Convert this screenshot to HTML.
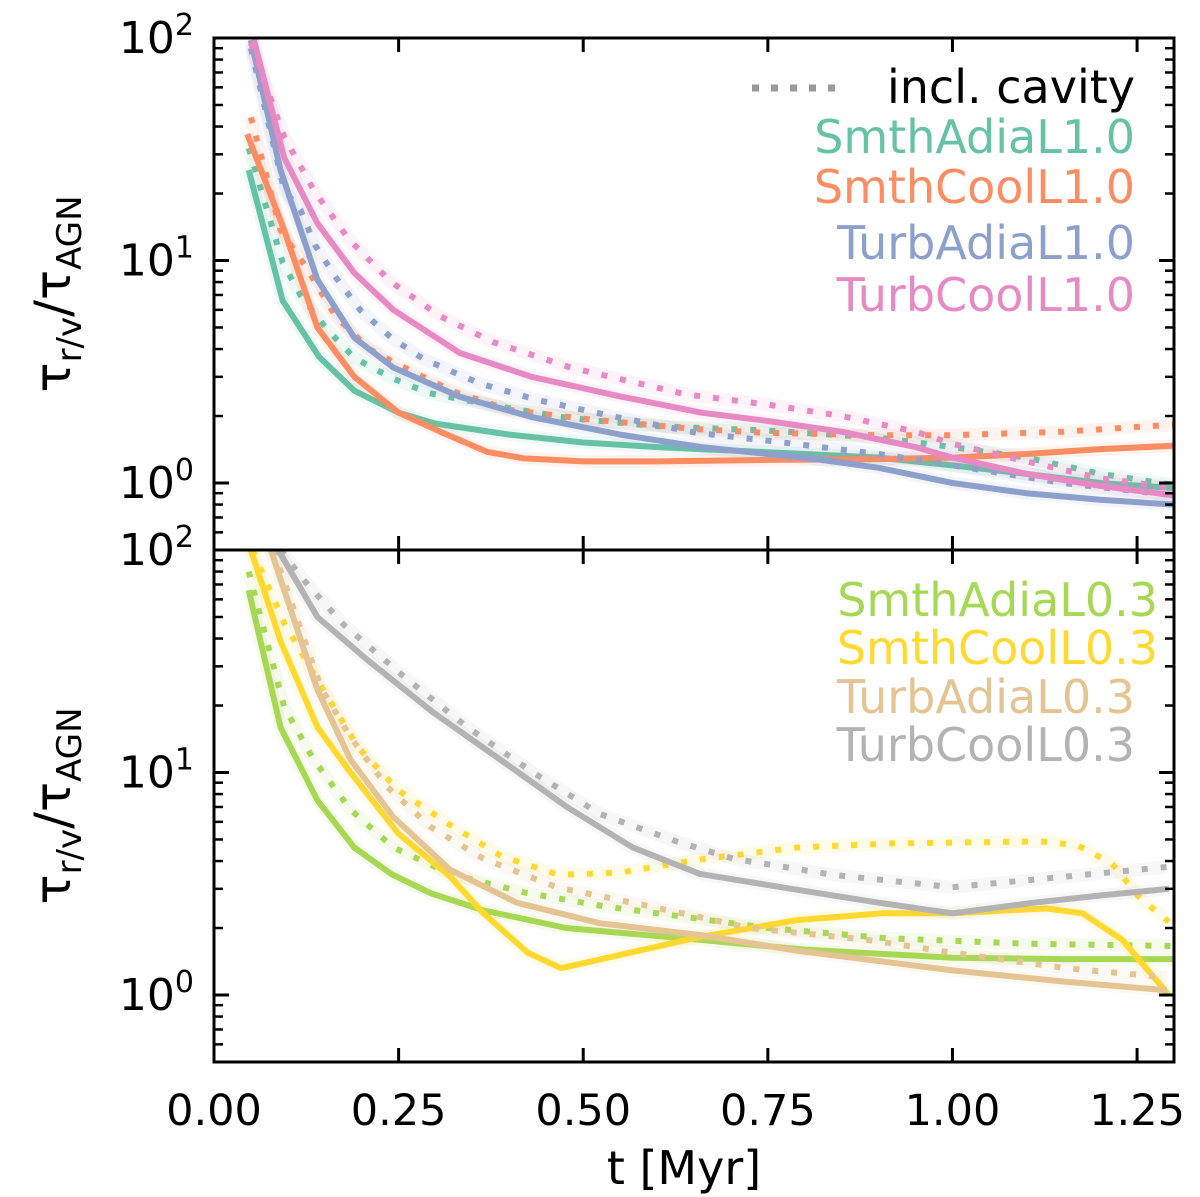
<!DOCTYPE html>
<html><head><meta charset="utf-8">
<style>
html,body{margin:0;padding:0;background:#fff;}
svg{display:block;font-family:"DejaVu Sans","Liberation Sans",sans-serif;}
</style></head>
<body>
<svg id="chart" width="1200" height="1197" viewBox="0 0 1200 1197" xmlns="http://www.w3.org/2000/svg">
<defs>
<clipPath id="clipTop"><rect x="214" y="38" width="960" height="512"/></clipPath>
<clipPath id="clipBot"><rect x="214" y="550" width="960" height="512"/></clipPath>
</defs>
<g id="topSeries" clip-path="url(#clipTop)"></g>
<g id="botSeries" clip-path="url(#clipBot)"></g>
<g id="axes"></g>
<text transform="translate(70,294) rotate(-90)" text-anchor="middle" font-size="50">τ<tspan font-size="34" dy="11">r/v</tspan><tspan dy="-11">/τ</tspan><tspan font-size="34" dy="11">AGN</tspan></text>
<text transform="translate(70,806) rotate(-90)" text-anchor="middle" font-size="50">τ<tspan font-size="34" dy="11">r/v</tspan><tspan dy="-11">/τ</tspan><tspan font-size="34" dy="11">AGN</tspan></text>
<text x="684" y="1184" text-anchor="middle" font-size="46">t [Myr]</text>
<g font-size="46" text-anchor="end">
<line x1="752" y1="88" x2="842" y2="88" stroke="#999" stroke-width="7" stroke-dasharray="7 12"/>
<text x="1135" y="103" fill="#000">incl. cavity</text>
<text x="1135" y="153" fill="#66c2a5">SmthAdiaL1.0</text>
<text x="1135" y="203" fill="#fc8d62">SmthCoolL1.0</text>
<text x="1135" y="259" fill="#8da0cb">TurbAdiaL1.0</text>
<text x="1135" y="311" fill="#e78ac3">TurbCoolL1.0</text>
</g>
<g font-size="46" text-anchor="end">
<text x="1158" y="616" fill="#a6d854">SmthAdiaL0.3</text>
<text x="1158" y="664" fill="#ffd92f">SmthCoolL0.3</text>
<text x="1135" y="713" fill="#e5c494">TurbAdiaL0.3</text>
<text x="1135" y="761" fill="#b3b3b3">TurbCoolL0.3</text>
</g>
</svg>
<script>
// ---- data: top panel (L1.0) ----
const tSA1 = [0.047,0.093,0.142,0.19,0.25,0.3,0.4,0.5,0.6,0.7,0.8,0.9,1.0,1.1,1.2,1.3];
const vSA1 = [25.5,6.6,3.7,2.6,2.07,1.85,1.65,1.52,1.45,1.4,1.35,1.3,1.2,1.1,1.0,0.95];
const tSA1c = [0.047,0.093,0.118,0.153,0.19,0.24,0.29,0.375,0.48,0.6,0.75,0.9,1.0,1.1,1.2,1.3];
const vSA1c = [32,9.8,6.9,4.9,3.65,2.97,2.54,2.24,1.96,1.8,1.72,1.6,1.45,1.3,1.1,0.98];
const tSC1 = [0.045,0.095,0.14,0.19,0.25,0.31,0.37,0.42,0.5,0.6,0.75,0.9,1.0,1.1,1.2,1.3];
const vSC1 = [37,13.7,5.0,3.0,2.07,1.68,1.38,1.29,1.25,1.25,1.27,1.28,1.3,1.35,1.42,1.47];
const tSC1c = [0.05,0.07,0.09,0.125,0.165,0.21,0.25,0.325,0.4,0.51,0.65,0.75,0.9,1.0,1.15,1.3];
const vSC1c = [44,24.7,13.7,9.3,5.6,4.0,3.4,2.57,2.13,1.93,1.75,1.68,1.64,1.64,1.7,1.83];
const tTA1 = [0.05,0.09,0.14,0.19,0.243,0.333,0.43,0.55,0.66,0.75,0.8,0.9,1.0,1.1,1.2,1.3];
const vTA1 = [98,25.5,8.2,4.5,3.3,2.44,1.98,1.65,1.45,1.35,1.3,1.17,1.0,0.9,0.84,0.8];
const tTA1c = [0.05,0.095,0.117,0.137,0.166,0.198,0.24,0.284,0.36,0.438,0.545,0.654,0.75,0.9,1.0,1.15,1.3];
const vTA1c = [90,20.7,16.9,11.7,8.3,6.0,4.5,3.6,2.8,2.36,1.98,1.68,1.55,1.35,1.2,1.0,0.88];
const tTC1 = [0.054,0.095,0.14,0.19,0.243,0.333,0.43,0.55,0.66,0.75,0.85,0.95,1.0,1.1,1.2,1.3];
const vTC1 = [98,29,14.7,8.8,6.0,3.84,3.0,2.45,2.07,1.9,1.7,1.45,1.3,1.1,0.97,0.88];
const tTC1c = [0.05,0.095,0.135,0.183,0.24,0.307,0.378,0.483,0.64,0.75,0.85,0.95,1.0,1.1,1.2,1.3];
const vTC1c = [95,36,20.7,12.4,8.0,5.6,4.3,3.3,2.5,2.25,2.0,1.7,1.5,1.25,1.05,0.95];
// ---- data: bottom panel (L0.3) ----
const tSA3 = [0.047,0.09,0.14,0.19,0.24,0.293,0.365,0.477,0.657,0.8,1.0,1.15,1.3];
const vSA3 = [66,16,7.5,4.6,3.5,2.87,2.4,2.0,1.77,1.6,1.47,1.45,1.45];
const tSA3c = [0.047,0.095,0.135,0.185,0.243,0.32,0.424,0.53,0.64,0.75,0.91,1.1,1.3];
const vSA3c = [80,19.7,11.4,6.8,4.6,3.5,2.87,2.5,2.24,2.0,1.8,1.7,1.66];
const tSC3 = [0.05,0.09,0.14,0.185,0.25,0.32,0.365,0.425,0.47,0.657,0.79,0.905,1.0,1.127,1.176,1.23,1.293];
const vSC3 = [100,39,16,10,5.3,3.4,2.33,1.55,1.32,1.82,2.17,2.33,2.33,2.45,2.33,1.77,1.0];
const tSC3c = [0.052,0.095,0.14,0.195,0.25,0.32,0.39,0.466,0.55,0.654,0.79,0.92,1.12,1.17,1.216,1.253,1.293];
const vSC3c = [100,47,26,13,8.3,5.8,4.2,3.47,3.55,4.05,4.6,4.8,4.9,4.7,3.9,2.75,2.13];
const tTA3 = [0.077,0.14,0.185,0.243,0.32,0.41,0.523,0.658,0.79,1.0,1.15,1.29];
const vTA3 = [100,23.5,11.4,6.3,3.65,2.6,2.1,1.86,1.58,1.29,1.15,1.05];
const tTA3c = [0.08,0.118,0.145,0.185,0.235,0.293,0.365,0.464,0.567,0.726,0.884,1.0,1.154,1.29];
const vTA3c = [100,43.6,24,14.4,8.6,5.7,4.1,3.05,2.6,2.0,1.77,1.55,1.32,1.2];
const tTC3 = [0.087,0.14,0.208,0.298,0.388,0.478,0.567,0.658,0.79,0.9,1.0,1.11,1.2,1.293];
const vTC3 = [100,50,32,18.5,11.4,7.0,4.6,3.5,2.97,2.6,2.33,2.6,2.8,3.0];
const tTC3c = [0.09,0.122,0.176,0.257,0.343,0.432,0.523,0.626,0.703,0.838,1.0,1.11,1.29];
const vTC3c = [100,73,46,27,16,10,6.5,4.9,4.1,3.47,3.05,3.3,3.76];
// tick labels
const xTicks = [0,0.25,0.5,0.75,1.0,1.25];
const xTickLabels = ["0.00","0.25","0.50","0.75","1.00","1.25"];
const yDecades = [0,1,2];

const NS = "http://www.w3.org/2000/svg";
const X0 = 214, X1 = 1174, XMAX = 1.3;
const PANELS = [{top:38},{top:550}];
const DEC = 222.5;
function xs(t){ return X0 + (t / XMAX) * (X1 - X0); }
function ys(v, p){ return PANELS[p].top + (2 - Math.log10(v)) * DEC; }
function mk(tag, attrs, parent){ const e = document.createElementNS(NS, tag); for (const k in attrs) e.setAttribute(k, attrs[k]); parent.appendChild(e); return e; }
function pathD(ts, vs, p){ return ts.map((t,i)=> (i?"L":"M") + xs(t).toFixed(1) + "," + ys(vs[i],p).toFixed(1)).join(" "); }

function drawSeries(ts, vs, p, color, dotted, name){
  const g = document.getElementById(p ? "botSeries" : "topSeries");
  const band = mk("path", {d: pathD(ts,vs,p), fill:"none", stroke:color, "stroke-width":13, "stroke-opacity":0.1, "stroke-linejoin":"round"}, g);
  
  
  const attrs = {d: pathD(ts,vs,p), fill:"none", stroke:color, "stroke-width":6, "stroke-linejoin":"round"};
  if (dotted) attrs["stroke-dasharray"] = "6 13";
  const ln = mk("path", attrs, g);
  
  
}
drawSeries(tSA1,vSA1,0,"#66c2a5",false,"line-smthadial1");
drawSeries(tSA1c,vSA1c,0,"#66c2a5",true,"line-smthadial1-cavity");
drawSeries(tSC1,vSC1,0,"#fc8d62",false,"line-smthcooll1");
drawSeries(tSC1c,vSC1c,0,"#fc8d62",true,"line-smthcooll1-cavity");
drawSeries(tTA1,vTA1,0,"#8da0cb",false,"line-turbadial1");
drawSeries(tTA1c,vTA1c,0,"#8da0cb",true,"line-turbadial1-cavity");
drawSeries(tTC1,vTC1,0,"#e78ac3",false,"line-turbcooll1");
drawSeries(tTC1c,vTC1c,0,"#e78ac3",true,"line-turbcooll1-cavity");
drawSeries(tSA3,vSA3,1,"#a6d854",false,"line-smthadial03");
drawSeries(tSA3c,vSA3c,1,"#a6d854",true,"line-smthadial03-cavity");
drawSeries(tSC3,vSC3,1,"#ffd92f",false,"line-smthcooll03");
drawSeries(tSC3c,vSC3c,1,"#ffd92f",true,"line-smthcooll03-cavity");
drawSeries(tTA3,vTA3,1,"#e5c494",false,"line-turbadial03");
drawSeries(tTA3c,vTA3c,1,"#e5c494",true,"line-turbadial03-cavity");
drawSeries(tTC3,vTC3,1,"#b3b3b3",false,"line-turbcooll03");
drawSeries(tTC3c,vTC3c,1,"#b3b3b3",true,"line-turbcooll03-cavity");

// axes
const ax = document.getElementById("axes");
for (let p = 0; p < 2; p++){
  const top = PANELS[p].top, bot = top + 512;
  const fr = mk("rect", {x:X0, y:top, width:X1-X0, height:512, fill:"none", stroke:"#000", "stroke-width":3}, ax);
  
  
  xTicks.forEach((t,i)=>{
    const x = xs(t);
    const a = mk("line", {x1:x, y1:bot, x2:x, y2:bot-14, stroke:"#000", "stroke-width":3}, ax);
    
    
    const b = mk("line", {x1:x, y1:top, x2:x, y2:top+14, stroke:"#000", "stroke-width":3}, ax);
    
    
    if (p === 1){
      const tl = mk("text", {x:x, y:1125, "text-anchor":"middle", "font-size":"43"}, ax);
      tl.textContent = xTickLabels[i];
      
      
    }
  });
  for (let d = -1; d < 2; d++){
    for (let m = 1; m < 10; m++){
      const v = m * Math.pow(10, d);
      if (v < 0.5 || v > 100) continue;
      const y = ys(v, p);
      const len = m === 1 ? 15 : 9;
      const l1 = mk("line", {x1:X0, y1:y, x2:X0+len, y2:y, stroke:"#000", "stroke-width": m===1?3:2.5}, ax);
      
      
      const l2 = mk("line", {x1:X1, y1:y, x2:X1-len, y2:y, stroke:"#000", "stroke-width": m===1?3:2.5}, ax);
      
      
    }
  }
  yDecades.forEach(d=>{
    const y = ys(Math.pow(10,d), p);
    const tx = mk("text", {x:194, y:y+15, "text-anchor":"end", "font-size":"44"}, ax);
    
    
    const t1 = document.createElementNS(NS,"tspan"); t1.textContent = "10"; tx.appendChild(t1);
    const t2 = document.createElementNS(NS,"tspan"); t2.setAttribute("dy","-18"); t2.setAttribute("font-size","30"); t2.textContent = String(d); tx.appendChild(t2);
  });
}
</script>
</body></html>
